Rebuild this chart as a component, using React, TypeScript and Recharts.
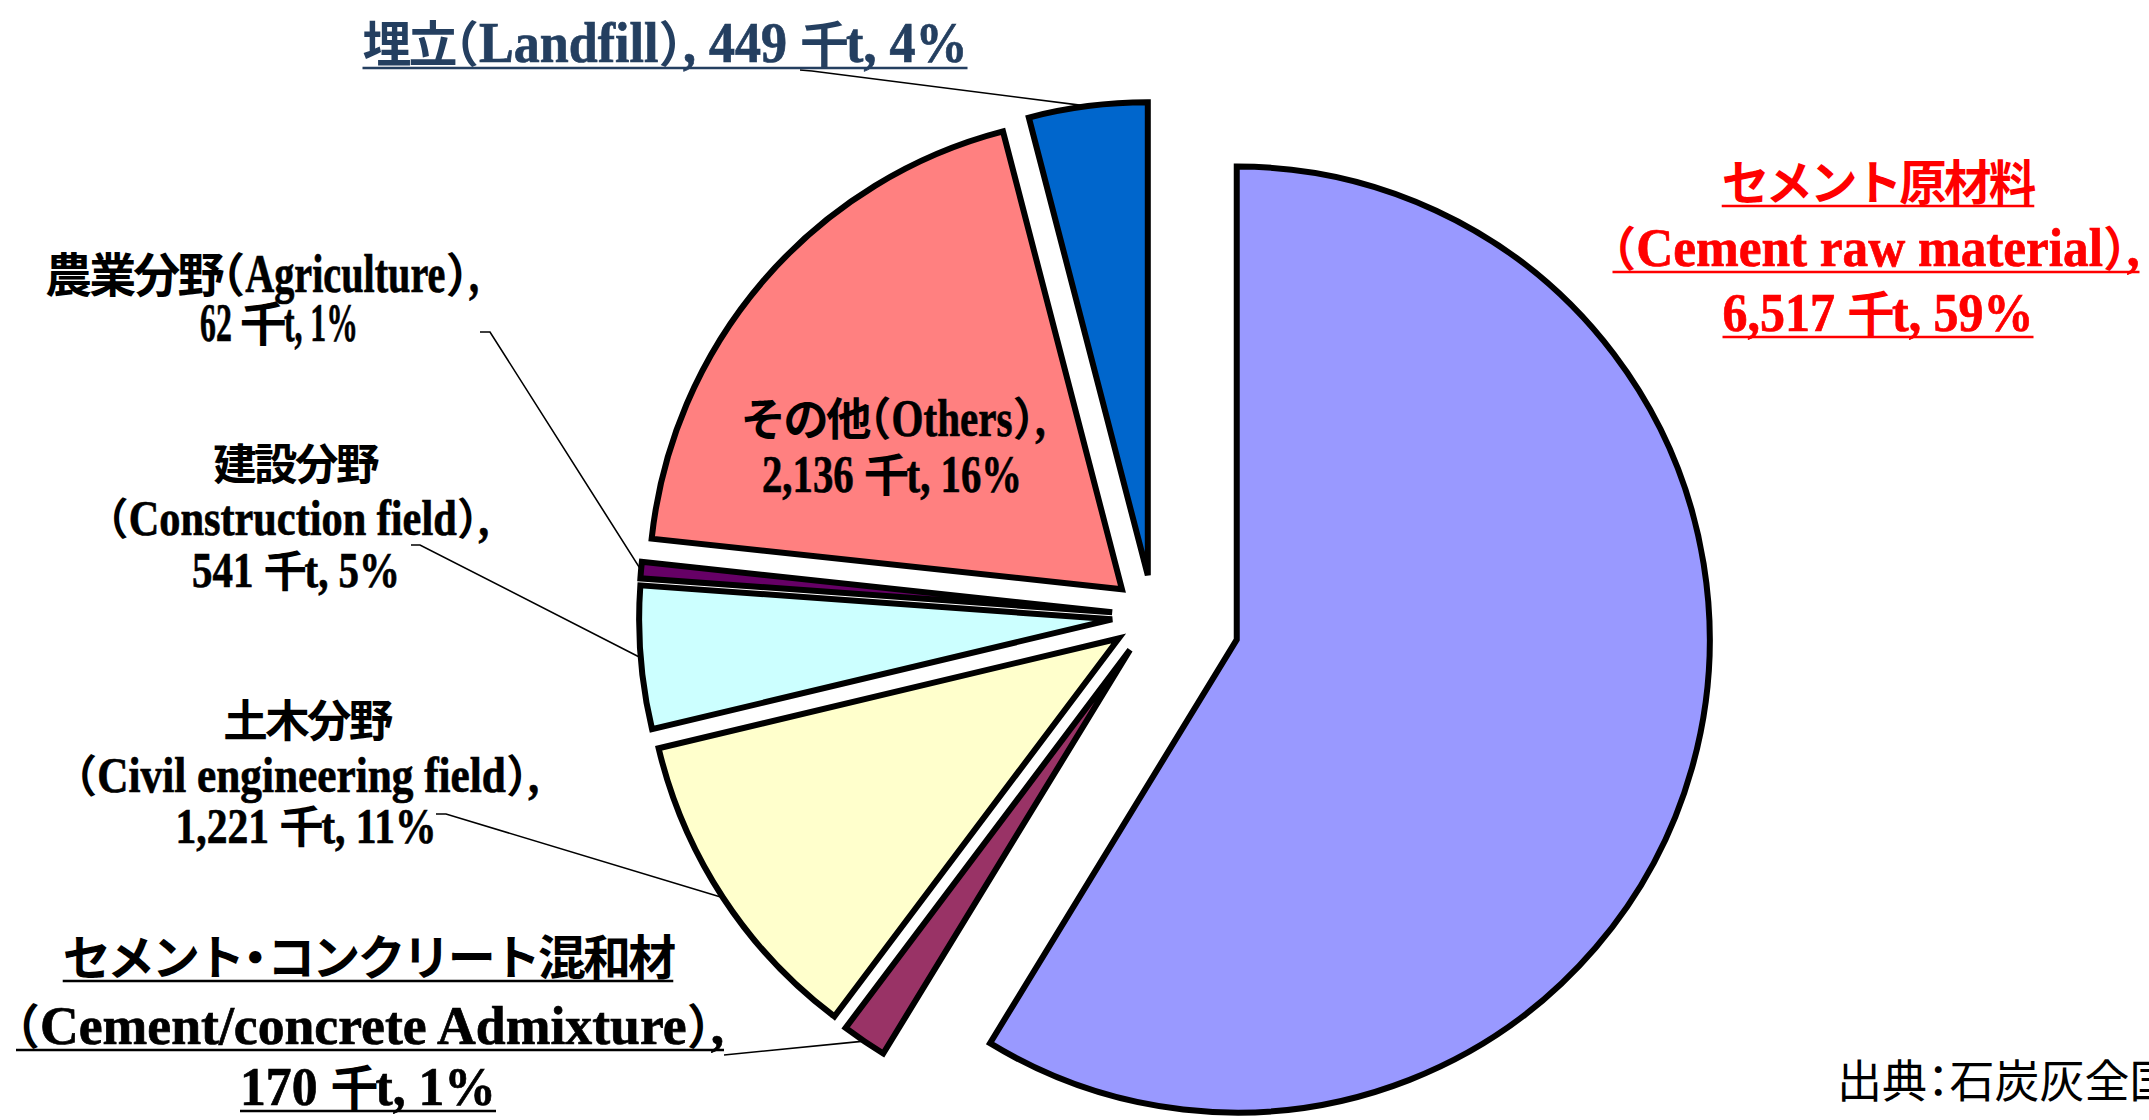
import React from "react";
import { PieChart, Pie, Sector } from "recharts";

// 石炭灰の利用先（千t）
const categories = ["セメント原材料", "セメント・コンクリート混和材", "土木分野", "建設分野", "農業分野", "その他", "埋立"];
const englishNames = ["Cement raw material", "Cement/concrete Admixture", "Civil engineering field", "Construction field", "Agriculture", "Others", "Landfill"];
const amounts = [6517, 170, 1221, 541, 62, 2136, 449];
const shareLabels = ["59%", "1%", "11%", "5%", "1%", "16%", "4%"];

const data = categories.map((name, i) => ({ name, value: amounts[i] }));

const COLORS = ["#9999FF", "#993366", "#FFFFCC", "#CCFFFF", "#660066", "#FF8080", "#0066CC"];
const EXPLODE = [87, 41, 41, 41, 41, 41, 41];

const W = 2149;
const H = 1120;
const RAD = Math.PI / 180;
const LATIN = '"Liberation Serif", "Times New Roman", serif';
const CJK = '"Noto Sans CJK JP", "Noto Sans CJK SC", sans-serif';
const LATIN_SCALE = 1.15;
const CJK_SX = 0.94;

// label layout: split = number of lines, xs = line centres, ys = baselines, ws = target widths
const LABEL_LAYOUT = [
  { split: 3, xs: [1878, 1876, 1878], ys: [200, 266, 331], ws: [0, 527, 311], fc: 47.5, color: "#FF0000", underline: true, leader: null },
  { split: 3, xs: [368, 370, 368], ys: [975, 1044, 1105], ws: [0, 708, 256], fc: 48, color: "#000", underline: true, leader: [[724, 1055]] },
  { split: 3, xs: [307, 307, 306], ys: [737, 792, 843], ws: [0, 464, 261], fc: 44.5, color: "#000", underline: false, leader: [[436, 814], [446, 814]] },
  { split: 3, xs: [295, 298, 296], ys: [480, 535, 587], ws: [0, 382, 208], fc: 43.5, color: "#000", underline: false, leader: [[411, 545], [420, 545]] },
  { split: 2, xs: [262, 279], ys: [292, 341], ws: [434, 158], fc: 47, color: "#000", underline: false, leader: [[480, 332], [490, 332]] },
  { split: 2, xs: [893, 892], ys: [436, 492], ws: [305, 260], fc: 45.5, color: "#000", underline: false, leader: null },
  { split: 1, xs: [665], ys: [62], ws: [605], fc: 49, color: "#243F60", underline: true, leader: [[800, 70], [812, 71]] },
];

const polar = (r: number, angle: number) => [r * Math.cos(-angle * RAD), r * Math.sin(-angle * RAD)];

const amountText = (i: number) => `${amounts[i].toLocaleString("en-US")} 千t, ${shareLabels[i]}`;
const englishText = (i: number) => `（${englishNames[i]}）,`;

function labelLines(i: number) {
  const split = LABEL_LAYOUT[i].split;
  if (split === 1) return [`${categories[i]}（${englishNames[i]}）, ${amountText(i)}`];
  if (split === 2) return [`${categories[i]}${englishText(i)}`, amountText(i)];
  return [categories[i], englishText(i), amountText(i)];
}

// full-width punctuation drawn with half-width alternates
const NARROW = new Set(["（", "）", "・", "："]);
const isCJK = (c: string) => /[\u3000-\u30ff\u3400-\u9fff\uff00-\uffef]/.test(c);

type Run = { text: string; kind: "cjk" | "latin" | "narrow"; nat?: number };

function splitRuns(s: string): Run[] {
  const runs: Run[] = [];
  for (const ch of s) {
    const kind = NARROW.has(ch) ? "narrow" : isCJK(ch) ? "cjk" : "latin";
    const last = runs[runs.length - 1];
    if (last && last.kind === kind && kind !== "narrow") last.text += ch;
    else runs.push({ text: ch, kind });
  }
  return runs;
}

let ctx: CanvasRenderingContext2D | null = null;
function measure(text: string, font: string) {
  if (!ctx) ctx = document.createElement("canvas").getContext("2d");
  if (!ctx) return text.length * 20;
  ctx.font = font;
  return ctx.measureText(text).width;
}

// lays out one line into tspans, returns the tspans and the underline extent
function layoutLine(text: string, cx: number, y: number, width: number, fc: number, color: string, key: string) {
  const fl = fc * LATIN_SCALE;
  const tighten = -(1 - CJK_SX) * fc;
  const runs = splitRuns(text).map((r) => {
    if (r.kind === "latin") return { ...r, nat: measure(r.text, `bold ${fl}px ${LATIN}`) };
    if (r.kind === "narrow") return { ...r, nat: 0.5 * fc };
    return { ...r, nat: measure(r.text, `bold ${fc}px ${CJK}`) + tighten * [...r.text].length };
  });
  const fixed = runs.filter((r) => r.kind !== "latin").reduce((a, r) => a + (r.nat || 0), 0);
  const lat = runs.filter((r) => r.kind === "latin").reduce((a, r) => a + (r.nat || 0), 0);
  const sx = width && lat > 0 ? (width - fixed) / lat : 1;
  const total = fixed + lat * sx;
  let x = cx - total / 2;
  const left = x;
  const spans = runs.map((r, k) => {
    const w = r.kind === "latin" ? (r.nat || 0) * sx : r.nat || 0;
    const x0 = x;
    x += w;
    if (r.kind === "latin") {
      return (
        <tspan key={`${key}-${k}`} x={x0} y={y} fontFamily={LATIN} fontSize={fl} textLength={w}
          lengthAdjust="spacingAndGlyphs" stroke={color} strokeWidth={0.7}>
          {r.text}
        </tspan>
      );
    }
    if (r.kind === "narrow") {
      return (
        <tspan key={`${key}-${k}`} x={x0} y={y} fontFamily={CJK} fontSize={fc} style={{ fontFeatureSettings: '"halt"' }}>
          {r.text}
        </tspan>
      );
    }
    return (
      <tspan key={`${key}-${k}`} x={x0} y={y} fontFamily={CJK} fontSize={fc} letterSpacing={tighten}>
        {r.text}
      </tspan>
    );
  });
  return { spans, left, total };
}

function LabelBlock({ index }: { index: number }) {
  const lay = LABEL_LAYOUT[index];
  const laid = labelLines(index).map((t, k) => ({
    ...layoutLine(t, lay.xs[k], lay.ys[k], lay.ws[k], lay.fc, lay.color, `l${k}`),
    y: lay.ys[k],
  }));
  return (
    <g>
      <text fill={lay.color} fontWeight="bold" style={{ whiteSpace: "pre" }}>
        {laid.flatMap((l) => l.spans)}
      </text>
      {lay.underline &&
        laid.map((l, k) => (
          <line key={k} x1={l.left} x2={l.left + l.total} y1={l.y + 6} y2={l.y + 6} stroke={lay.color} strokeWidth={2.5} />
        ))}
    </g>
  );
}

let shapeDrawn = false;

function ExplodedSector({ index, cx, cy, midAngle, outerRadius, startAngle, endAngle }: any) {
  const [dx, dy] = polar(EXPLODE[index], midAngle);
  return (
    <Sector cx={cx + dx} cy={cy + dy} innerRadius={0} outerRadius={outerRadius}
      startAngle={startAngle} endAngle={endAngle} fill={COLORS[index]} stroke="#000" strokeWidth={6} />
  );
}

const renderShape = (props: any) => {
  shapeDrawn = true;
  const index = categories.indexOf(props.payload?.name ?? props.name);
  return <ExplodedSector index={index} {...props} />;
};

const renderLabel = (props: any) => {
  const { index, cx, cy, midAngle, outerRadius } = props;
  const lay = LABEL_LAYOUT[index];
  const [ax, ay] = polar(EXPLODE[index] + outerRadius, midAngle);
  const pts = lay.leader ? [...lay.leader, [cx + ax, cy + ay]] : null;
  return (
    <g>
      {!shapeDrawn && <ExplodedSector {...props} index={index} />}
      {pts && <polyline points={pts.map((p) => p.join(",")).join(" ")} fill="none" stroke="#000" strokeWidth={1.6} />}
      <LabelBlock index={index} />
    </g>
  );
};

export default function App() {
  return (
    <div style={{ position: "absolute", left: 0, top: 0, width: W, height: H, background: "#fff" }}>
      <style>{`body{margin:0;overflow:hidden}`}</style>
      <PieChart width={W} height={H} margin={{ top: 0, right: 0, bottom: 0, left: 0 }}>
        <Pie
          data={data}
          dataKey="value"
          nameKey="name"
          cx={1153}
          cy={616}
          outerRadius={473}
          startAngle={90}
          endAngle={-270}
          fill="none"
          stroke="none"
          shape={renderShape}
          label={renderLabel}
          labelLine={false}
          isAnimationActive={false}
        />
        <text x={1837} y={1098} fontFamily={CJK} fontSize={45} fill="#000">
          出典<tspan style={{ fontFeatureSettings: '"halt"' }}>：</tspan>石炭灰全国
        </text>
      </PieChart>
    </div>
  );
}
